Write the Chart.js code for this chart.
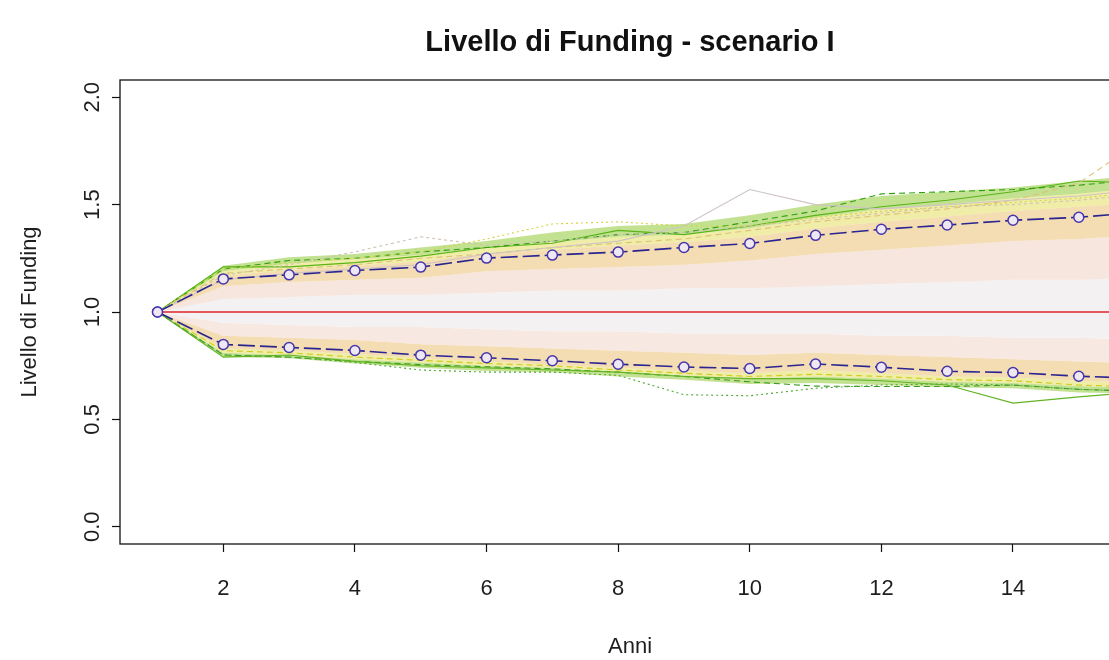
<!DOCTYPE html>
<html>
<head>
<meta charset="utf-8">
<script src="https://cdn.jsdelivr.net/npm/chart.js@4.4.1/dist/chart.umd.min.js"></script>
<style>
  html, body { margin: 0; padding: 0; background: #ffffff; overflow: hidden; width: 1109px; height: 660px; }
  #wrap { width: 1164px; height: 660px; }
</style>
</head>
<body>
<div id="wrap"><canvas id="c" width="1164" height="660"></canvas></div>
<script>
// Years of projection
const years = [1, 2, 3, 4, 5, 6, 7, 8, 9, 10, 11, 12, 13, 14, 15, 16];

// Upper and lower percentile paths (blue dashed with circles)
const upperPct = [1.00, 1.154, 1.173, 1.193, 1.209, 1.251, 1.265, 1.279, 1.300, 1.319, 1.357, 1.385, 1.405, 1.427, 1.441, 1.465];
const lowerPct = [1.00, 0.849, 0.835, 0.821, 0.799, 0.787, 0.773, 0.757, 0.744, 0.737, 0.758, 0.743, 0.724, 0.718, 0.701, 0.690];

// Reference funding level
const fullFunding = [1, 1, 1, 1, 1, 1, 1, 1, 1, 1, 1, 1, 1, 1, 1, 1];

// Envelopes of the simulated paths, from the outer (green) edge to the grey core
const greenTop  = [1.00, 1.215, 1.255, 1.270, 1.300, 1.330, 1.370, 1.400, 1.410, 1.450, 1.500, 1.540, 1.560, 1.580, 1.610, 1.640];
const yellowTop = [1.00, 1.190, 1.225, 1.245, 1.265, 1.300, 1.325, 1.350, 1.360, 1.390, 1.440, 1.480, 1.500, 1.530, 1.550, 1.580];
const tanTop    = [1.00, 1.170, 1.195, 1.215, 1.235, 1.275, 1.290, 1.310, 1.325, 1.350, 1.390, 1.420, 1.445, 1.470, 1.490, 1.510];
const pinkTop   = [1.00, 1.120, 1.140, 1.150, 1.160, 1.190, 1.200, 1.210, 1.220, 1.240, 1.270, 1.290, 1.310, 1.330, 1.340, 1.360];
const coreTop   = [1.00, 1.060, 1.070, 1.080, 1.080, 1.090, 1.100, 1.100, 1.110, 1.110, 1.120, 1.130, 1.140, 1.150, 1.150, 1.160];
const coreBot   = [1.00, 0.950, 0.940, 0.930, 0.930, 0.920, 0.910, 0.910, 0.900, 0.900, 0.900, 0.890, 0.890, 0.880, 0.880, 0.870];
const pinkBot   = [1.00, 0.890, 0.880, 0.870, 0.850, 0.840, 0.830, 0.820, 0.810, 0.800, 0.810, 0.800, 0.790, 0.780, 0.770, 0.760];
const tanBot    = [1.00, 0.830, 0.820, 0.805, 0.785, 0.770, 0.755, 0.740, 0.725, 0.715, 0.730, 0.715, 0.700, 0.695, 0.680, 0.670];
const yellowBot = [1.00, 0.810, 0.800, 0.780, 0.765, 0.750, 0.740, 0.720, 0.705, 0.690, 0.700, 0.690, 0.675, 0.670, 0.655, 0.645];
const greenBot  = [1.00, 0.790, 0.785, 0.760, 0.740, 0.725, 0.720, 0.700, 0.685, 0.665, 0.670, 0.660, 0.650, 0.645, 0.625, 0.620];

// Individual extreme scenarios
const pathA = [1.00, 1.170, 1.220, 1.280, 1.350, 1.310, 1.330, 1.360, 1.370, 1.400, 1.430, 1.460, 1.490, 1.500, 1.520, 1.550];
const pathB = [1.00, 1.150, 1.180, 1.200, 1.220, 1.270, 1.300, 1.330, 1.400, 1.570, 1.500, 1.480, 1.500, 1.520, 1.540, 1.570];
const pathC = [1.00, 1.200, 1.230, 1.250, 1.280, 1.340, 1.410, 1.420, 1.400, 1.400, 1.440, 1.470, 1.490, 1.510, 1.530, 1.560];
const pathD = [1.00, 1.180, 1.200, 1.220, 1.250, 1.270, 1.300, 1.320, 1.340, 1.380, 1.420, 1.450, 1.480, 1.520, 1.600, 1.810];
const pathE = [1.00, 1.200, 1.240, 1.250, 1.280, 1.300, 1.330, 1.360, 1.370, 1.420, 1.470, 1.550, 1.560, 1.570, 1.590, 1.620];
const pathF = [1.00, 1.210, 1.210, 1.230, 1.260, 1.300, 1.320, 1.380, 1.360, 1.400, 1.450, 1.490, 1.520, 1.560, 1.610, 1.600];
const pathG = [1.00, 0.800, 0.790, 0.765, 0.730, 0.720, 0.720, 0.705, 0.615, 0.610, 0.645, 0.660, 0.665, 0.660, 0.640, 0.630];
const pathH = [1.00, 0.790, 0.800, 0.770, 0.750, 0.740, 0.730, 0.720, 0.700, 0.690, 0.690, 0.680, 0.660, 0.576, 0.605, 0.630];
const pathI = [1.00, 0.800, 0.790, 0.770, 0.755, 0.745, 0.735, 0.720, 0.700, 0.675, 0.655, 0.653, 0.653, 0.660, 0.640, 0.630];
const pathJ = [1.00, 0.820, 0.810, 0.790, 0.775, 0.760, 0.750, 0.730, 0.715, 0.700, 0.710, 0.700, 0.685, 0.680, 0.660, 0.650];

// Axis ticks
const xTicks = [2, 4, 6, 8, 10, 12, 14];
const yTicks = [0, 0.5, 1, 1.5, 2];

const pts = arr => arr.map((v, i) => ({ x: years[i], y: v }));

const datasets = [];
function band(values, color, target) {
  datasets.push({
    data: pts(values), borderWidth: 0, pointRadius: 0, tension: 0,
    borderColor: 'rgba(0,0,0,0)', backgroundColor: color,
    fill: target === null ? false : { target: target }, order: 30
  });
}
// Bands: each fills down to the next envelope
band(greenTop,  'rgba(150,204,66,0.58)', 1);
band(yellowTop, 'rgba(226,222,96,0.55)', 2);
band(tanTop,    'rgba(234,190,108,0.52)', 3);
band(pinkTop,   'rgba(240,208,192,0.52)', 4);
band(coreTop,   'rgba(243,241,242,1)', 5);
band(coreBot,   'rgba(240,212,198,0.52)', 6);
band(pinkBot,   'rgba(234,190,108,0.52)', 7);
band(tanBot,    'rgba(226,222,96,0.55)', 8);
band(yellowBot, 'rgba(150,204,66,0.58)', 9);
band(greenBot,  'rgba(0,0,0,0)', null);

function path(values, color, dash) {
  datasets.push({
    data: pts(values), borderColor: color, borderWidth: 1.1, borderDash: dash,
    pointRadius: 0, tension: 0, fill: false, order: 20
  });
}
path(pathA, '#cfc2b4', [3, 3]);
path(pathB, '#cfc4c4', []);
path(pathC, '#d6d43c', [2, 3]);
path(pathD, '#e0c07a', [6, 4]);
path(pathE, '#2f9e10', [6, 4]);
path(pathF, '#58b418', []);
path(pathG, '#4fa636', [2, 3]);
path(pathH, '#62b424', []);
path(pathI, '#3a9a22', [6, 4]);
path(pathJ, '#d2cc1e', [6, 4]);

datasets.push({
  data: pts(fullFunding), borderColor: '#e2232a', borderWidth: 1.4,
  pointRadius: 0, fill: false, order: 10
});
[upperPct, lowerPct].forEach(arr => datasets.push({
  data: pts(arr), borderColor: '#2a2590', borderWidth: 1.6, borderDash: [17, 5],
  pointRadius: 5, pointHoverRadius: 5, pointBorderWidth: 1.5,
  pointBorderColor: '#4636ac', pointBackgroundColor: '#efe8f3',
  tension: 0, fill: false, order: 0
}));

const frame = {
  id: 'frame',
  afterDatasetsDraw(chart) {
    const { ctx, chartArea: a } = chart;
    ctx.save();
    ctx.strokeStyle = '#111';
    ctx.lineWidth = 1.3;
    ctx.strokeRect(a.left, a.top, a.right - a.left, a.bottom - a.top);
    ctx.restore();
  }
};

Chart.defaults.font.family = "'Liberation Sans', Arial, sans-serif";
Chart.defaults.color = '#1e1e1e';

new Chart(document.getElementById('c'), {
  type: 'line',
  data: { datasets },
  plugins: [frame],
  options: {
    responsive: false, animation: false, devicePixelRatio: 1,
    layout: { padding: { left: 0, right: 24, top: 0, bottom: 0 } },
    plugins: {
      legend: { display: false },
      tooltip: { enabled: false },
      title: {
        display: true, text: 'Livello di Funding - scenario I', fullSize: false,
        font: { size: 29, weight: 'bold' }, color: '#111',
        padding: { top: 25.6, bottom: 19.6 }
      }
    },
    scales: {
      x: {
        type: 'linear', min: 0.43, max: 15.93,
        afterBuildTicks: s => { s.ticks = xTicks.map(v => ({ value: v })); },
        afterFit: s => { s.height = 116; },
        border: { display: false },
        grid: { drawOnChartArea: false, drawTicks: true, tickLength: 8, color: '#111', tickWidth: 1.2 },
        ticks: { font: { size: 22 }, padding: 24, maxRotation: 0, minRotation: 0, color: '#1e1e1e' },
        title: { display: true, text: 'Anni', font: { size: 22 }, padding: { top: 0, bottom: 0 }, color: '#1e1e1e' }
      },
      y: {
        type: 'linear', min: -0.08, max: 2.08,
        afterBuildTicks: s => { s.ticks = yTicks.map(v => ({ value: v })); },
        afterFit: s => { s.width = 120; },
        border: { display: false },
        grid: { drawOnChartArea: false, drawTicks: true, tickLength: 8, color: '#111', tickWidth: 1.2 },
        ticks: {
          font: { size: 22 }, padding: 4, minRotation: 90, maxRotation: 90, crossAlign: 'center',
          color: '#1e1e1e', callback: v => v.toFixed(1)
        },
        title: { display: true, text: 'Livello di Funding', font: { size: 22 }, padding: { top: 17, bottom: 0 }, color: '#1e1e1e' }
      }
    }
  }
});
</script>
</body>
</html>
